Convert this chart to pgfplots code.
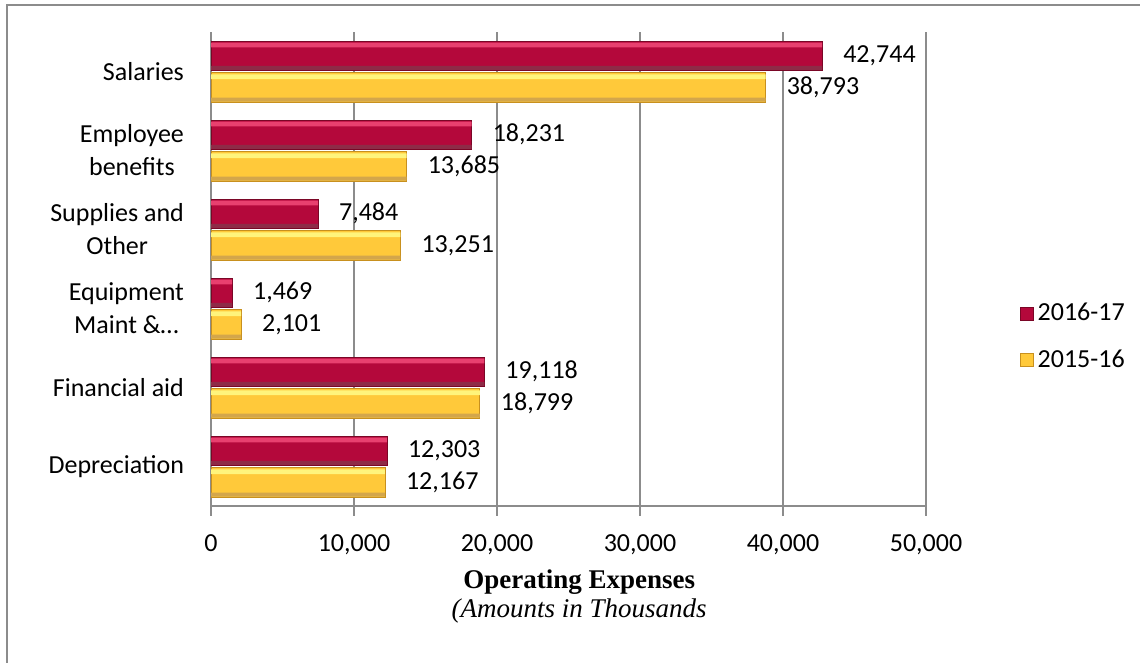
\documentclass[border=0pt]{standalone}
\usepackage{fontspec}
\setmainfont{Carlito}
\newfontfamily\tnr{Liberation Serif}
\usepackage{pgfplots}
\usepackage{pgfplotstable}
\pgfplotsset{compat=1.18}
\definecolor{redM}{HTML}{B4083B}
\definecolor{redT}{HTML}{E8406F}
\definecolor{redB}{HTML}{7A0626}
\definecolor{yelM}{HTML}{FFC93A}
\definecolor{yelT}{HTML}{FFF47C}
\definecolor{yelB}{HTML}{C8901E}
\definecolor{gridc}{HTML}{8C8C8C}
\pgfplotstableread{
y  a     b
5  42744 38793
4  18231 13685
3  7484  13251
2  1469  2101
1  19118 18799
0  12303 12167
}\datatab
\begin{document}
\begin{tikzpicture}[x=1pt,y=1pt]
\useasboundingbox (0,0) rectangle (570,331.5);
\draw[gridc, line width=1pt] (3.5,-20) -- (3.5,329) -- (600,329);
\begin{axis}[
  at={(105.5pt,78.5pt)}, anchor=south west,
  scale only axis, width=357.5pt, height=237pt,
  xbar,
  xmin=0, xmax=50000, ymin=-0.5, ymax=5.5,
  axis x line*=bottom, axis y line*=left,
  xtick={0,10000,...,50000}, scaled x ticks=false,
  xmajorgrids, grid style={gridc, line width=0.6pt},
  axis line style={gridc, line width=0.6pt},
  xtick align=outside, major tick length=5pt, xtick style={gridc, line width=0.6pt},
  ytick={0,...,5}, ytick style={draw=none},
  yticklabels={Depreciation, Financial aid, {Equipment\\Maint \&…}, {Supplies and\\Other}, {Employee\\benefits}, Salaries},
  y tick label style={align=center, font=\fontsize{13}{16.5}\selectfont, xshift=-5pt},
  x tick label style={font=\fontsize{13}{16}\selectfont, yshift=-6pt},
  /pgf/number format/1000 sep={,},
  /pgf/number format/assume math mode=true,
  bar width=0.37,
  nodes near coords style={font=\fontsize{13}{16}\selectfont, anchor=west, xshift=7pt, text=black},
  xlabel={\textbf{Operating Expenses}\\\textit{(Amounts in Thousands}},
  xlabel style={font=\tnr\fontsize{13.5}{14.5}\selectfont, align=center, at={(axis description cs:0.515,-0.236)}, anchor=base},
  legend style={at={(1.131,0.357)}, anchor=west, draw=none, fill=none, font=\fontsize{13}{16}\selectfont, row sep=9pt, inner sep=0pt},
  legend cell align=left,
  legend image code/.code={\path[#1] (0pt,-3.2pt) rectangle (6.4pt,3.2pt);},
]
\addplot[bar shift=0.2, draw=redB, line width=0.4pt, fill=redM, nodes near coords]
  table[x=a, y=y] {\datatab};
\addlegendentry{2016-17}
\addplot[bar shift=-0.2, draw=yelB, line width=0.4pt, fill=yelM, nodes near coords]
  table[x=b, y=y] {\datatab};
\addlegendentry{2015-16}
% bevel highlights (top) and shadows (bottom)
\addplot[forget plot, bar shift=0.335, bar width=0.06, draw=none, fill=redT]
  table[x=a, y=y] {\datatab};
\addplot[forget plot, bar shift=0.045, bar width=0.05, draw=none, fill=redB!85]
  table[x=a, y=y] {\datatab};
\addplot[forget plot, bar shift=-0.065, bar width=0.06, draw=none, fill=yelT]
  table[x=b, y=y] {\datatab};
\addplot[forget plot, bar shift=-0.355, bar width=0.05, draw=none, fill=yelB!80]
  table[x=b, y=y] {\datatab};
\end{axis}
\end{tikzpicture}
\end{document}
